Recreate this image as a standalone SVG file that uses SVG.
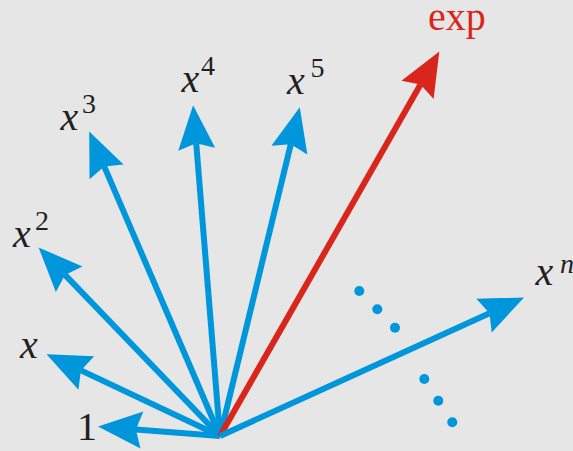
<svg xmlns="http://www.w3.org/2000/svg" width="573" height="451" viewBox="0 0 573 451">
<style>
.b{stroke:#0096dc;stroke-width:6;fill:none}
.r{stroke:#d9261c;stroke-width:6;fill:none}
.t{font-family:"Liberation Serif","Times New Roman",serif;font-size:40px;fill:#231f20}
.i{font-style:italic}
.s{font-size:28px}
.dot{fill:#0096dc}
</style>
<defs>
<marker id="hb" markerUnits="userSpaceOnUse" markerWidth="60" markerHeight="60" viewBox="-10 -25 60 50" refX="0" refY="0" orient="auto" overflow="visible">
<path d="M38,0 L-6,-18.5 L0,0 L-6,18.5 Z" fill="#0096dc"/>
</marker>
<marker id="hr" markerUnits="userSpaceOnUse" markerWidth="60" markerHeight="60" viewBox="-10 -25 60 50" refX="0" refY="0" orient="auto" overflow="visible">
<path d="M38,0 L-6,-18.5 L0,0 L-6,18.5 Z" fill="#d9261c"/>
</marker>
</defs>
<rect width="573" height="451" fill="#e6e6e6"/>
<g id="connectors">
<line class="b" x1="220" y1="436" x2="135.9" y2="429.5" marker-end="url(#hb)"/>
<line class="b" x1="220" y1="436" x2="80.9" y2="370.4" marker-end="url(#hb)"/>
<line class="b" x1="220" y1="436" x2="65" y2="274.9" marker-end="url(#hb)"/>
<line class="b" x1="220" y1="436" x2="104.2" y2="166.4" marker-end="url(#hb)"/>
<line class="b" x1="220" y1="436" x2="196.2" y2="143.2" marker-end="url(#hb)"/>
<line class="b" x1="220" y1="436" x2="290.8" y2="144.3" marker-end="url(#hb)"/>
<line class="r" x1="220" y1="436" x2="420.5" y2="84.6" marker-end="url(#hr)"/>
<line class="b" x1="220" y1="436" x2="489.5" y2="313.2" marker-end="url(#hb)"/>
</g>
<g id="dots">
<circle class="dot" cx="359.3" cy="291" r="5"/>
<circle class="dot" cx="377.3" cy="309.3" r="5"/>
<circle class="dot" cx="395" cy="327.7" r="5"/>
<circle class="dot" cx="424.3" cy="379" r="5"/>
<circle class="dot" cx="438.3" cy="400.7" r="5"/>
<circle class="dot" cx="452.3" cy="422.3" r="5"/>
</g>
<g id="n1"><text class="t" x="77" y="440">1</text></g>
<g id="nx"><text class="t i" x="20" y="358">x</text></g>
<g id="nx2"><text class="t" x="13"  y="246.7"><tspan class="i">x</tspan><tspan class="s" x="35" y="230">2</tspan></text></g>
<g id="nx3"><text class="t" x="60.5" y="130"><tspan class="i">x</tspan><tspan class="s" x="82" y="113">3</tspan></text></g>
<g id="nx4"><text class="t" x="181.5" y="91.7"><tspan class="i">x</tspan><tspan class="s" x="201" y="75">4</tspan></text></g>
<g id="nx5"><text class="t" x="287" y="94"><tspan class="i">x</tspan><tspan class="s" x="310.5" y="76.7">5</tspan></text></g>
<g id="nexp"><text class="t" x="428" y="30" fill="#d9261c" style="fill:#d9261c">exp</text></g>
<g id="nxn"><text class="t" x="535.5" y="285"><tspan class="i">x</tspan><tspan class="s i" x="560" y="273.3">n</tspan></text></g>
</svg>
